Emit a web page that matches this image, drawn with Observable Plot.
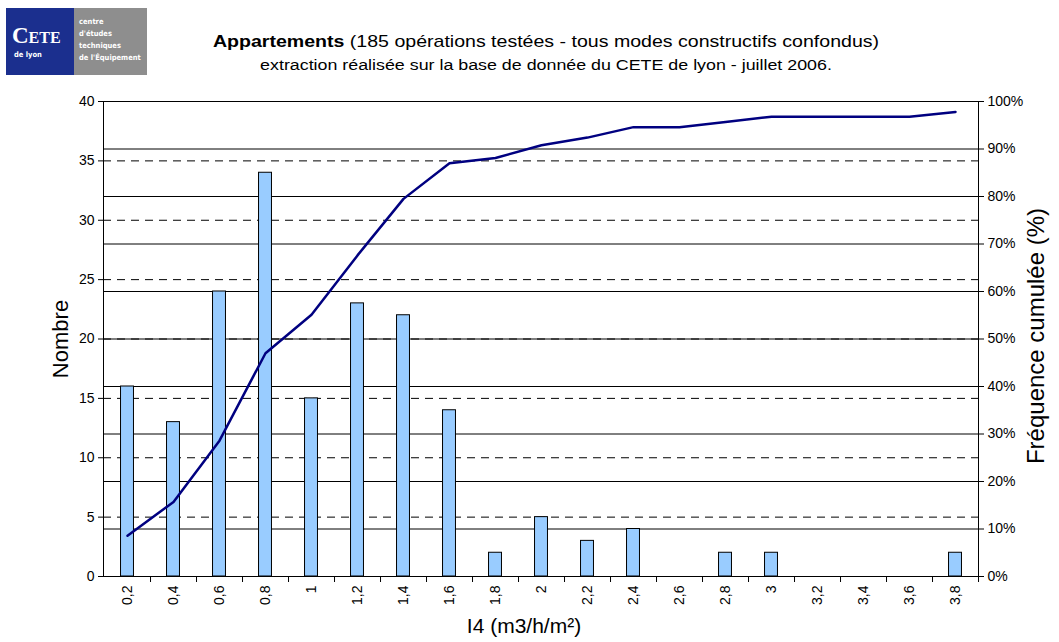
<!DOCTYPE html>
<html><head><meta charset="utf-8">
<script src="https://cdn.jsdelivr.net/npm/d3@7"></script>
<script src="https://cdn.jsdelivr.net/npm/@observablehq/plot@0.6"></script>
<style>
body{margin:0;background:#fff;font-family:"Liberation Sans",Arial,sans-serif;}
#wrap{position:relative;width:1059px;height:642px;overflow:hidden;}
#header{position:relative;height:85px;}
#logo{position:absolute;left:6px;top:8px;width:141px;height:67px;display:flex;}
#logo .l{width:68px;height:100%;background:#1b2f8e;color:#fff;position:relative;}
#logo .r{flex:1;height:100%;background:#8e8e8e;color:#fff;font-size:7.5px;line-height:12px;padding:8px 0 0 5px;box-sizing:border-box;font-family:"DejaVu Sans Condensed","DejaVu Sans",sans-serif;font-weight:bold;}
#logo .cete{position:absolute;left:6px;top:16px;font-family:"Liberation Serif",serif;font-weight:bold;font-size:23px;font-variant:small-caps;line-height:23px;}
#logo .lyon{position:absolute;left:8px;top:42px;font-size:7.5px;font-weight:bold;font-family:"DejaVu Sans Condensed","DejaVu Sans",sans-serif;}
.t{position:absolute;left:0;width:1092px;text-align:center;white-space:nowrap;transform:scaleX(1.15);transform-origin:546px 0;}
#title{top:32px;font-size:17px;}
#subtitle{top:56px;font-size:15.5px;}
</style></head>
<body><div id="wrap">
<div id="header">
  <div id="logo">
    <div class="l"><div class="cete">Cete</div><div class="lyon">de lyon</div></div>
    <div class="r">centre<br>d'études<br>techniques<br>de l'Équipement</div>
  </div>
  <div id="title" class="t"><b>Appartements</b> (185 opérations testées - tous modes constructifs confondus)</div>
  <div id="subtitle" class="t">extraction réalisée sur la base de donnée du CETE de lyon - juillet 2006.</div>
</div>
<div id="chart"></div>
</div>
<script>
const categories = ["0,2","0,4","0,6","0,8","1","1,2","1,4","1,6","1,8","2","2,2","2,4","2,6","2,8","3","3,2","3,4","3,6","3,8"];
const counts = [16,13,24,34,15,23,22,14,2,5,3,4,0,2,2,0,0,0,2];
const cumulPct = [8.6,15.7,28.6,47.0,55.1,67.6,79.5,87.0,88.1,90.8,92.4,94.6,94.6,95.7,96.8,96.8,96.8,96.8,97.8];
const leftTicks = [0,5,10,15,20,25,30,35,40];
const rightTicks = [0,10,20,30,40,50,60,70,80,90,100];

const W = 1059, H = 557, mL = 103, mR = 81, mT = 16, mB = 66;
const yMax = 40;
const bw = (W - mL - mR) / categories.length;
const barW = 13;
const inset = (bw - barW) / 2;
const pctToY = p => p * yMax / 100;
const data = categories.map((c, i) => ({cat: c, count: counts[i], cum: cumulPct[i]}));

const chart = Plot.plot({
  width: W, height: H,
  marginLeft: mL, marginRight: mR, marginTop: mT, marginBottom: mB,
  style: {fontFamily: "'Liberation Sans', Arial, sans-serif", fontSize: "14px", color: "#000", background: "#fff"},
  x: {type: "band", domain: categories, padding: 0, label: null},
  y: {domain: [0, yMax], label: null},
  marks: [
    Plot.ruleY(leftTicks.filter(v => v > 0 && v < yMax), {stroke: "#000", strokeDasharray: "8,6", strokeWidth: 1}),
    Plot.ruleY(rightTicks.filter(v => v > 0 && v < 100).map(pctToY), {stroke: "#000", strokeWidth: 1}),
    Plot.barY(data, {x: "cat", y: "count", fill: "#99CCFF", stroke: "#000", strokeWidth: 1, insetLeft: inset, insetRight: inset}),
    Plot.line(data, {x: "cat", y: d => pctToY(d.cum), stroke: "#000080", strokeWidth: 2.5}),
    Plot.frame({stroke: "#000"}),
    Plot.axisY(leftTicks, {anchor: "left", tickSize: 5, tickPadding: 4, tickFormat: d => String(d), label: null}),
    Plot.axisY(rightTicks.map(pctToY), {anchor: "right", tickSize: 5, tickPadding: 4, tickFormat: d => Math.round(d * 100 / yMax) + "%", label: null}),
    Plot.axisX({anchor: "bottom", tickSize: 6, dx: bw / 2, tickFormat: () => "", label: null}),
    Plot.axisX({anchor: "bottom", tickSize: 0, tickRotate: -90, tickPadding: 9, label: null}),
    Plot.text(["Nombre"], {frameAnchor: "left", textAnchor: "middle", dx: -43, rotate: -90, fontSize: 22}),
    Plot.text(["Fréquence cumulée (%)"], {frameAnchor: "right", textAnchor: "middle", dx: 58, dy: -3, rotate: -90, fontSize: 24, letterSpacing: 2}),
    Plot.text(["I4 (m3/h/m²)"], {frameAnchor: "bottom", dx: -17, dy: 56, fontSize: 21})
  ]
});
document.getElementById("chart").appendChild(chart);
</script>
</body></html>
